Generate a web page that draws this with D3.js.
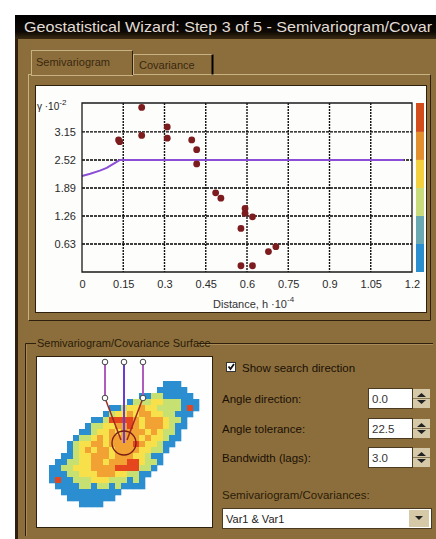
<!DOCTYPE html>
<html>
<head>
<meta charset="utf-8">
<script src="https://cdn.jsdelivr.net/npm/d3@7"></script>
<style>
body { margin: 0; background: #fff; }
svg { display: block; font-family: "Liberation Sans", Arial, sans-serif; }
</style>
</head>
<body>
<div id="chart"></div>
<script>
// empirical semivariogram points (h in 10^-4, gamma in 10^-2)
const lagH     = [0.133, 0.137, 0.217, 0.217, 0.310, 0.310, 0.399, 0.417, 0.417, 0.486, 0.505, 0.593, 0.593, 0.620, 0.578, 0.578, 0.620, 0.678, 0.705];
const lagGamma = [2.97, 2.93, 3.70, 3.07, 3.26, 3.01, 2.97, 2.75, 2.43, 1.78, 1.66, 1.43, 1.32, 1.24, 0.98, 0.14, 0.14, 0.46, 0.57];

// fitted model line
const modelH     = [0, 0.03, 0.065, 0.09, 0.114, 0.138, 1.17];
const modelGamma = [2.16, 2.21, 2.28, 2.34, 2.43, 2.52, 2.52];

const xTicks = [0, 0.15, 0.3, 0.45, 0.6, 0.75, 0.9, 1.05, 1.2];
const yTicks = [0.63, 1.26, 1.89, 2.52, 3.15];

// colour legend bar, bottom to top
const barBreaks = [0, 0.63, 1.26, 1.89, 2.52, 3.15, 3.8];
const barColors = ["#2b8fcf", "#6aa9b2", "#c9dc7c", "#f2d03e", "#e2902e", "#d24c1c"];

// semivariogram surface, one string per row of cells
const surfaceRows = [
  ".............................",
  ".............................",
  ".............................",
  ".............................",
  ".....................bbb.....",
  "....................bbbbb....",
  ".................bbggbbbbb...",
  "...............bgggyygggbbb..",
  "............bbgyyoyyggggbrb..",
  "...........bgyyoyooyyggbbb...",
  ".........bbgrrrroyoooyggb....",
  "........bggyyooroyoooygbb....",
  ".......bbgyyoyooooyoyggb.....",
  "......bggyoyoooooyoyygbb.....",
  ".....bgyyooyooooroyygbb......",
  ".....bgyoyooyooooyyggb.......",
  "....bbgyyoooyoooyygbb........",
  "...bbggyyooyooorryggb........",
  "..bbggyyyoooorrrrggb.........",
  "..bbbggyyyoooyyggbb..........",
  "..brbbgggyyygggbgb...........",
  "...bbbbggbggbgbbbb...........",
  "....bbbbbbbbbb...............",
  ".....bbbbbbbb................",
  ".......bbbb..................",
  ".............................",
  ".............................",
  "............................."
];
const surfaceColors = { b: "#2a8ed0", g: "#c6e072", y: "#f7e04a", o: "#f2a233", r: "#e6461e" };

const angleLabels = ["Angle direction:", "Angle tolerance:", "Bandwidth (lags):"];
const angleValues = ["0.0", "22.5", "3.0"];

const W = 436, H = 539;
const brown = "#8c6e3c", dark = "#2e200c", light = "#c9b282";

const svg = d3.select("#chart").append("svg")
    .attr("width", W).attr("height", H);

const defs = svg.append("defs");
const tg = defs.append("linearGradient").attr("id", "titleGrad")
    .attr("x1", 0).attr("y1", 0).attr("x2", 0).attr("y2", 1);
tg.append("stop").attr("offset", "0%").attr("stop-color", "#000");
tg.append("stop").attr("offset", "70%").attr("stop-color", "#0e0904");
tg.append("stop").attr("offset", "100%").attr("stop-color", "#3a2a12");

// window body
svg.append("rect").attr("x", 15).attr("y", 15).attr("width", W - 15).attr("height", H - 15)
    .attr("fill", brown);
svg.append("rect").attr("x", 15).attr("y", 15).attr("width", 3).attr("height", H - 15)
    .attr("fill", dark);

// title bar
svg.append("rect").attr("x", 15).attr("y", 15).attr("width", W - 15).attr("height", 24)
    .attr("fill", "url(#titleGrad)");
svg.append("text").attr("x", 24).attr("y", 32)
    .attr("fill", "#e0dcd6").style("font-size", "15px")
    .attr("textLength", 408).attr("lengthAdjust", "spacingAndGlyphs")
    .text("Geostatistical Wizard: Step 3 of 5 - Semivariogram/Covar");

// tab panel
svg.append("rect").attr("x", 28.5).attr("y", 74.5).attr("width", 402).attr("height", 246)
    .attr("fill", brown).attr("stroke", light);
svg.append("path").attr("d", "M430.5,74.5V320.5H28.5").attr("fill", "none").attr("stroke", dark);

// tabs
svg.append("rect").attr("x", 133.5).attr("y", 54.5).attr("width", 79).attr("height", 20)
    .attr("fill", brown).attr("stroke", light);
svg.append("path").attr("d", "M212.5,54.5V74.5").attr("stroke", "#000").attr("stroke-width", 2);
svg.append("text").attr("x", 139).attr("y", 69).attr("fill", "#3a2810")
    .style("font-size", "11px").text("Covariance");
svg.append("rect").attr("x", 31.5).attr("y", 50.5).attr("width", 101).attr("height", 25)
    .attr("fill", brown).attr("stroke", light);
svg.append("path").attr("d", "M132.5,50.5V75").attr("stroke", dark);
svg.append("text").attr("x", 36).attr("y", 66).attr("fill", "#3a2810")
    .style("font-size", "11px").text("Semivariogram");

// white chart panel
svg.append("rect").attr("x", 35.5).attr("y", 85.5).attr("width", 391).attr("height", 227)
    .attr("fill", "#fdfdfc").attr("stroke", dark);

// ---------- semivariogram chart ----------
const xScale = d3.scaleLinear().domain([0, 1.2]).range([82, 412]);
const yScale = d3.scaleLinear().domain([0, 3.8]).range([272, 103]);

const grid = svg.append("g").attr("class", "grid");

grid.selectAll("line.vgrid").data(xTicks.slice(1, -1)).join("line")
    .attr("class", "vgrid")
    .attr("x1", d => xScale(d)).attr("x2", d => xScale(d))
    .attr("y1", yScale(3.8)).attr("y2", yScale(0))
    .style("stroke", "#111").style("stroke-width", "1.4px").style("stroke-dasharray", "2,1");
grid.selectAll("line.hgrid").data(yTicks).join("line")
    .attr("class", "hgrid")
    .attr("x1", xScale(0)).attr("x2", xScale(1.2))
    .attr("y1", d => yScale(d)).attr("y2", d => yScale(d))
    .style("stroke", "#000").style("stroke-width", "1.4px").style("stroke-dasharray", "3,1");

const plot = svg.append("g");

const line = d3.line().x(d => xScale(d[0])).y(d => yScale(d[1]));
plot.append("path")
    .attr("d", line(modelH.map((h, i) => [h, modelGamma[i]])))
    .attr("fill", "none").attr("stroke", "#8a4fd6").attr("stroke-width", 2);

plot.append("path")
    .attr("d", `M${xScale(0)},${yScale(3.8)}H${xScale(1.2)}V${yScale(0)}H${xScale(0)}Z`)
    .style("fill", "none").style("stroke", "#1a1a1a").style("stroke-width", "1.3px");

plot.selectAll("circle.pt").data(lagH).join("circle")
    .attr("class", "pt")
    .attr("cx", d => xScale(d)).attr("cy", (d, i) => yScale(lagGamma[i]))
    .attr("r", 3.4).attr("fill", "#7c1c1e");

// colour bar
plot.selectAll("rect.band").data(barColors).join("rect")
    .attr("class", "band")
    .attr("x", 416).attr("width", 8)
    .attr("y", (d, i) => yScale(barBreaks[i + 1]))
    .attr("height", (d, i) => yScale(barBreaks[i]) - yScale(barBreaks[i + 1]))
    .attr("fill", d => d);

// axes
const yAxis = plot.append("g").attr("transform", `translate(${xScale(0)},0)`)
    .call(d3.axisLeft(yScale).tickValues(yTicks).tickSize(0).tickPadding(6).tickFormat(d3.format(".2f")));
const xAxis = plot.append("g").attr("transform", `translate(0,${yScale(0)})`)
    .call(d3.axisBottom(xScale).tickValues(xTicks).tickSize(0).tickPadding(8).tickFormat(d => String(d)));
[yAxis, xAxis].forEach(a => {
  a.select(".domain").remove();
  a.selectAll("text").attr("fill", "#2a2a2a").style("font-size", "11px")
      .style("font-family", "'Liberation Sans', Arial, sans-serif");
});

const yTitle = plot.append("text").attr("x", 37).attr("y", 110).attr("fill", "#222")
    .style("font-size", "10px");
yTitle.append("tspan").text("γ ·10");
yTitle.append("tspan").attr("dy", -5).style("font-size", "8px").text("-2");

const xTitle = plot.append("text").attr("x", 213).attr("y", 308).attr("fill", "#333")
    .style("font-size", "11px");
xTitle.append("tspan").text("Distance, h ·10");
xTitle.append("tspan").attr("dy", -6).style("font-size", "8px").text("-4");

// ---------- surface group ----------
svg.append("path").attr("d", "M36,343.5H25.5V536").attr("fill", "none").attr("stroke", dark);
svg.append("path").attr("d", "M198,343.5H433").attr("fill", "none").attr("stroke", dark);
svg.append("path").attr("d", "M198,344.5H433M26.5,344.5V536").attr("fill", "none").attr("stroke", "#a88c58");
svg.append("text").attr("x", 37).attr("y", 347).attr("fill", "#2a1c08")
    .style("font-size", "11px").text("Semivariogram/Covariance Surface");

svg.append("rect").attr("x", 36.5).attr("y", 356.5).attr("width", 176).attr("height", 171)
    .attr("fill", "#fefefe").attr("stroke", dark);

const colScale = d3.scaleBand().domain(d3.range(29)).range([37, 211]);
const rowScale = d3.scaleBand().domain(d3.range(surfaceRows.length)).range([357, 525]);
const cells = [];
surfaceRows.forEach((row, r) => row.split("").forEach((ch, c) => {
  if (ch !== ".") cells.push({ r, c, ch });
}));
svg.append("g").selectAll("rect").data(cells).join("rect")
    .attr("x", d => colScale(d.c)).attr("y", d => rowScale(d.r))
    .attr("width", colScale.bandwidth() + 0.3).attr("height", rowScale.bandwidth() + 0.3)
    .attr("fill", d => surfaceColors[d.ch]);

// search direction overlay
const ov = svg.append("g");
ov.append("line").attr("x1", 105).attr("y1", 362).attr("x2", 105).attr("y2", 398)
    .attr("stroke", "#b05cbc").attr("stroke-width", 2);
ov.append("line").attr("x1", 143).attr("y1", 362).attr("x2", 143).attr("y2", 398)
    .attr("stroke", "#b05cbc").attr("stroke-width", 2);
ov.append("line").attr("x1", 105).attr("y1", 398).attr("x2", 121).attr("y2", 440)
    .attr("stroke", "#a02820").attr("stroke-width", 1.5);
ov.append("line").attr("x1", 143).attr("y1", 398).attr("x2", 127).attr("y2", 440)
    .attr("stroke", "#a02820").attr("stroke-width", 1.5);
ov.append("line").attr("x1", 124).attr("y1", 362).attr("x2", 124).attr("y2", 443)
    .attr("stroke", "#6a3cd2").attr("stroke-width", 2);
ov.append("circle").attr("cx", 124).attr("cy", 443).attr("r", 12)
    .attr("fill", "none").attr("stroke", "#7a1a18").attr("stroke-width", 1.3);
[[105, 362], [124, 362], [143, 362], [105, 398], [143, 398]].forEach(p => {
  ov.append("circle").attr("cx", p[0]).attr("cy", p[1]).attr("r", 2.8)
      .attr("fill", "#fff").attr("stroke", "#444");
});

// ---------- controls ----------
svg.append("rect").attr("x", 226.5).attr("y", 362.5).attr("width", 9).attr("height", 9)
    .attr("fill", "#fff").attr("stroke", "#333");
svg.append("path").attr("d", "M228.5,366.5l2,2.5l3.5,-5").attr("fill", "none")
    .attr("stroke", "#111").attr("stroke-width", 1.8);
svg.append("text").attr("x", 242).attr("y", 372).attr("fill", "#1a1006")
    .style("font-size", "11.5px").text("Show search direction");

const ctrl = svg.append("g").selectAll("g").data(angleLabels).join("g")
    .attr("transform", (d, i) => `translate(0,${[388, 418, 447][i]})`);
ctrl.append("text").attr("x", 222).attr("y", 15).attr("fill", "#1a1006")
    .style("font-size", "11.5px").text(d => d);
ctrl.append("rect").attr("x", 368.5).attr("y", 0.5).attr("width", 44).attr("height", 20)
    .attr("fill", "#fff").attr("stroke", "#4a3a20");
ctrl.append("text").attr("x", 372).attr("y", 15).attr("fill", "#333")
    .style("font-size", "11.5px").text((d, i) => angleValues[i]);
ctrl.append("rect").attr("x", 413).attr("y", 1).attr("width", 17).attr("height", 19)
    .attr("fill", "#d6c9a8");
ctrl.append("path").attr("d", "M417,9l4.5,-4l4.5,4z M417,12l4.5,4l4.5,-4z").attr("fill", "#222");
ctrl.append("line").attr("x1", 413).attr("x2", 430).attr("y1", 10.5).attr("y2", 10.5).attr("stroke", "#8a7a58");

svg.append("text").attr("x", 222).attr("y", 499).attr("fill", "#2a1c08")
    .style("font-size", "11.5px").text("Semivariogram/Covariances:");
svg.append("rect").attr("x", 222.5).attr("y", 508.5).attr("width", 209).attr("height", 20)
    .attr("fill", "#fff").attr("stroke", "#4a3a20");
svg.append("text").attr("x", 226).attr("y", 523).attr("fill", "#222")
    .style("font-size", "11px").text("Var1 & Var1");
svg.append("rect").attr("x", 409).attr("y", 510).attr("width", 20).attr("height", 17)
    .attr("fill", "#d6c9a8");
svg.append("path").attr("d", "M415,516h8l-4,4z").attr("fill", "#222");
</script>
</body>
</html>
